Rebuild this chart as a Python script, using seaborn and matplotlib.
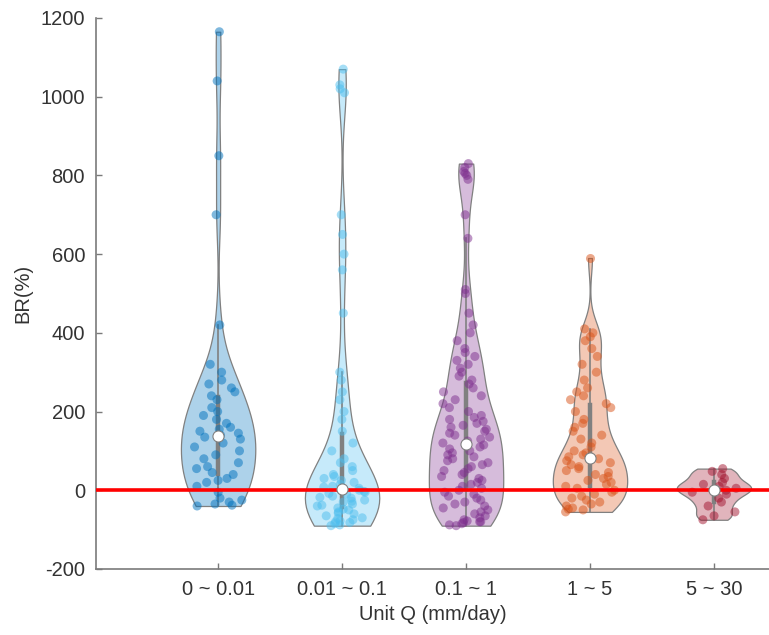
import pandas as pd
import seaborn as sns
import matplotlib.pyplot as plt
import matplotlib.colors as mcolors
import numpy as np

# Categories and BR(%) values
cats = ['0 ~ 0.01', '0.01 ~ 0.1', '0.1 ~ 1', '1 ~ 5', '5 ~ 30']

br_q1 = [-40, -38, -35, -30, -25, -20, -5, 10, 20, 25, 30, 40, 45, 55, 60, 70,
         80, 90, 100, 110, 120, 130, 135, 140, 145, 150, 155, 160, 170, 180,
         190, 200, 210, 230, 240, 250, 260, 270, 280, 300, 320, 420, 700, 850,
         1040, 1165]
br_q2 = [-90, -88, -85, -82, -80, -78, -75, -72, -70, -65, -60, -58, -55, -50,
         -48, -45, -40, -38, -35, -30, -28, -25, -20, -18, -15, -10, -8, -5, -3,
         0, 2, 5, 8, 10, 15, 20, 25, 30, 35, 40, 50, 60, 70, 80, 100, 120, 150,
         180, 200, 230, 250, 280, 300, 450, 560, 600, 650, 700, 1010, 1020,
         1030, 1070]
br_q3 = [-90, -88, -85, -82, -80, -80, -78, -75, -70, -65, -60, -55, -50, -45,
         -40, -35, -30, -25, -20, -15, -10, -5, 0, 5, 10, 15, 20, 25, 30, 35, 40,
         45, 50, 55, 60, 65, 70, 75, 80, 85, 90, 95, 100, 105, 110, 115, 120,
         125, 130, 135, 140, 145, 150, 155, 160, 165, 170, 175, 180, 185, 190,
         200, 210, 220, 230, 240, 250, 260, 270, 280, 290, 300, 310, 320, 330,
         340, 350, 360, 380, 400, 420, 450, 500, 510, 640, 700, 790, 800, 805,
         810, 820, 830]
br_q4 = [-55, -50, -48, -45, -40, -35, -30, -25, -20, -15, -10, -5, 0, 5, 10,
         15, 20, 25, 30, 35, 40, 45, 50, 55, 60, 65, 70, 75, 80, 85, 90, 95, 100,
         110, 120, 130, 140, 150, 160, 170, 180, 200, 210, 220, 230, 240, 250,
         260, 280, 300, 320, 340, 360, 380, 390, 400, 410, 590]
br_q5 = [-75, -65, -55, -40, -30, -20, -10, -5, 0, 5, 10, 15, 20, 30, 40, 48, 55]

# where each violin gets narrower / thin, so the dots spread less there
mid_from = [280, 40, 250, 260, 35]
thin_from = [400, 120, 450, 450, 100]

colors = ['#0072BD', '#4DBEEE', '#7E2F8E', '#D95319', '#A2142F']

# Long table for seaborn
groups = [br_q1, br_q2, br_q3, br_q4, br_q5]
df = pd.DataFrame({
    'Q': np.concatenate([[c] * len(g) for c, g in zip(cats, groups)]),
    'BR': np.concatenate(groups).astype(float),
})
mid = df['Q'].map(dict(zip(cats, mid_from)))
thin = df['Q'].map(dict(zip(cats, thin_from)))
df['zone'] = np.where(df['BR'] > thin, 'thin',
                      np.where(df['BR'] > mid, 'mid', 'body'))

# light fill = colour blended with white
def lighten(c, a=0.32):
    r = np.array(mcolors.to_rgb(c))
    return tuple(1 - a * (1 - r))

fill_pal = {c: lighten(col) for c, col in zip(cats, colors)}
dot_pal = dict(zip(cats, colors))

plt.rcParams['font.family'] = ['Liberation Sans', 'DejaVu Sans']
plt.rcParams['font.size'] = 14.5
plt.rcParams['axes.unicode_minus'] = False
np.random.seed(7)

fig = plt.figure(figsize=(7.69, 6.35), dpi=100)
ax = fig.add_axes([0.125, 0.104, 0.875, 0.8677])

sns.violinplot(data=df, x='Q', y='BR', hue='Q', palette=fill_pal, legend=False,
               order=cats, width=0.6, density_norm='width', cut=0, bw_adjust=0.6,
               linecolor='#808080', linewidth=0.9, saturation=1,
               inner='box', inner_kws={'box_width': 3.2, 'whis_width': 1.2,
                                       'marker': 'o', 'markersize': 8},
               ax=ax)
for zone, jit in [('body', 0.2), ('mid', 0.09), ('thin', 0.02)]:
    sns.stripplot(data=df[df['zone'] == zone], x='Q', y='BR', hue='Q',
                  palette=dot_pal, legend=False, order=cats, jitter=jit,
                  size=6.5, alpha=0.5, linewidth=0, ax=ax)

# gray outline round the white median dot
for ln in ax.lines:
    if ln.get_marker() == 'o':
        ln.set_markeredgecolor('#808080')
        ln.set_markeredgewidth(0.8)
        ln.set_zorder(4)

ax.axhline(0, color='#ff0000', lw=2.6, zorder=3)

ax.set_xlim(-0.984, 4.444)
ax.set_ylim(-200, 1200)
ax.set_yticks(np.arange(-200, 1201, 200))
ax.set_xlabel('Unit Q (mm/day)', color='#333333')
ax.set_ylabel('BR(%)', color='#333333', labelpad=6)

for s in ['top', 'right']:
    ax.spines[s].set_visible(False)
for s in ['left', 'bottom']:
    ax.spines[s].set_color('#7a7a7a')
    ax.spines[s].set_linewidth(1.2)
ax.tick_params(direction='in', length=4, width=1, color='#7a7a7a',
               labelcolor='#333333', pad=8)

fig.savefig('out.png', dpi=100)
